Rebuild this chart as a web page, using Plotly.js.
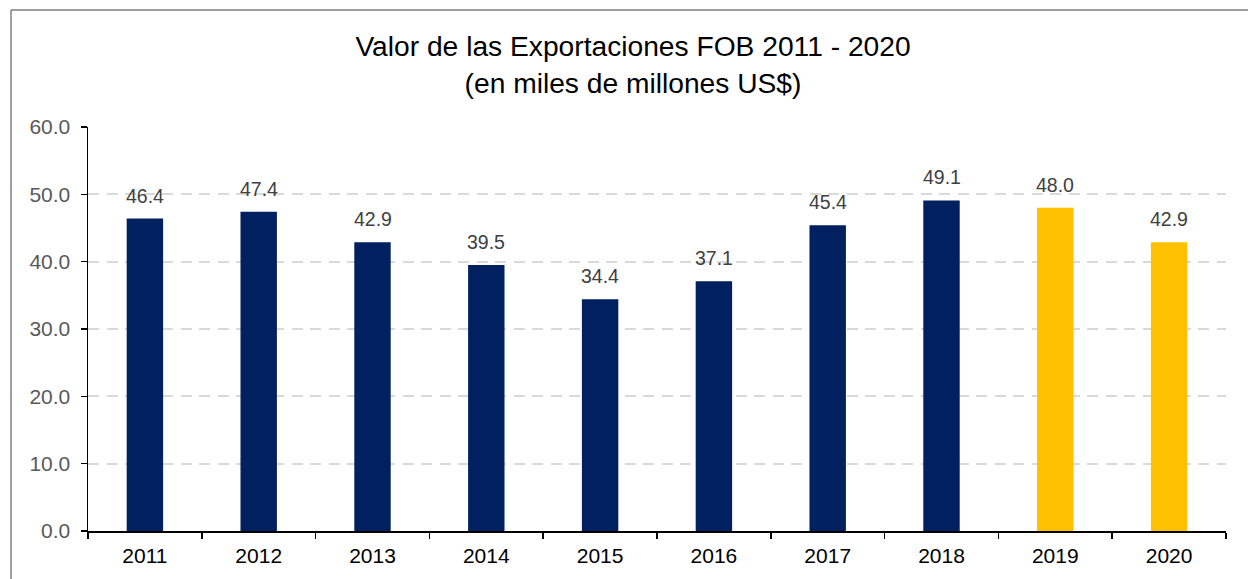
<!DOCTYPE html>
<html>
<head>
<meta charset="utf-8">
<script src="https://cdn.plot.ly/plotly-3.0.1.min.js"></script>
<style>
html,body{margin:0;padding:0;background:#fff;}
#chart{width:1248px;height:579px;}
</style>
</head>
<body>
<div id="chart"></div>
<script>
const years = ["2011","2012","2013","2014","2015","2016","2017","2018","2019","2020"];
const values = [46.4, 47.4, 42.9, 39.5, 34.4, 37.1, 45.4, 49.1, 48.0, 42.9];
const barColors = ["#002060","#002060","#002060","#002060","#002060","#002060","#002060","#002060","#FFC000","#FFC000"];
const yTicks = [0, 10, 20, 30, 40, 50, 60];
const yTickText = ["0.0","10.0","20.0","30.0","40.0","50.0","60.0"];
const titleText = "Valor de las Exportaciones FOB 2011 - 2020<br>(en miles de millones US$)";

const FONT = "Liberation Sans, Arial, sans-serif";

const trace = {
  type: "bar",
  x: years,
  y: values,
  marker: {color: barColors, line: {width: 0}},
  hoverinfo: "skip"
};

const annotations = years.map((yr, i) => ({
  x: i, y: values[i], xref: "x", yref: "y",
  text: values[i].toFixed(1),
  showarrow: false,
  yanchor: "middle",
  yshift: 23,
  font: {family: FONT, size: 19.5, color: "#404040"}
}));

// chart frame (top and left edges visible, right/bottom cut off)
const L = 88, R = 22, T = 127, B = 48, W = 1248, H = 579;
const pw = W - L - R, ph = H - T - B;
const px = v => (v - L) / pw;
const py = v => (H - B - v) / ph;

const layout = {
  width: W, height: H,
  margin: {l: L, r: R, t: T, b: B, pad: 0},
  paper_bgcolor: "#ffffff",
  plot_bgcolor: "#ffffff",
  bargap: 0.68,
  showlegend: false,
  font: {family: FONT},
  title: {
    text: titleText,
    x: 633 / W, xref: "container", xanchor: "center",
    y: 1 - 56 / H, yref: "container", yanchor: "top",
    font: {family: FONT, size: 28.2, color: "#000000"}
  },
  xaxis: {
    type: "category",
    categoryarray: years, categoryorder: "array",
    range: [-0.5, years.length - 0.5],
    autorange: false,
    showgrid: false,
    showline: true, linecolor: "#000000", linewidth: 1.5,
    ticks: "outside", ticklen: 6, tickwidth: 1.5, tickcolor: "#000000",
    tickson: "boundaries",
    tickangle: 0,
    ticklabelstandoff: 5,
    tickfont: {family: FONT, size: 21, color: "#000000"},
    zeroline: false
  },
  yaxis: {
    range: [0, 60], autorange: false,
    tickvals: yTicks, ticktext: yTickText,
    showgrid: true, gridcolor: "#d9d9d9", gridwidth: 2, griddash: "11px,7.5px",
    showline: true, linecolor: "#000000", linewidth: 1.5,
    ticks: "outside", ticklen: 6, tickwidth: 1.5, tickcolor: "#000000",
    ticklabelstandoff: 6,
    tickfont: {family: FONT, size: 21, color: "#595959"},
    zeroline: false,
    fixedrange: true
  },
  annotations: annotations,
  shapes: [
    {type: "line", xref: "paper", yref: "paper", layer: "above",
     x0: px(11), x1: px(11), y0: py(H + 5), y1: py(10),
     line: {color: "#7f7f7f", width: 1.5}},
    {type: "line", xref: "paper", yref: "paper", layer: "above",
     x0: px(11), x1: px(W + 5), y0: py(10), y1: py(10),
     line: {color: "#7f7f7f", width: 1.5}}
  ]
};

Plotly.newPlot("chart", [trace], layout, {displayModeBar: false, staticPlot: true});
</script>
</body>
</html>
